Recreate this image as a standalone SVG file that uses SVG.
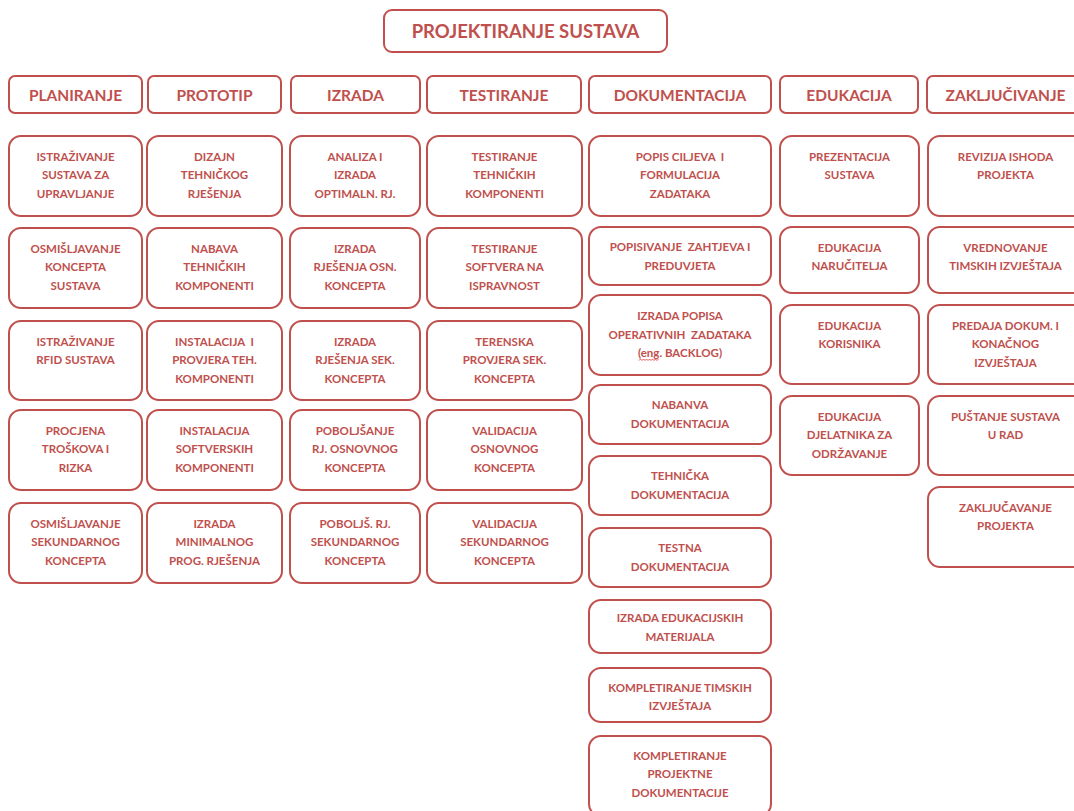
<svg xmlns="http://www.w3.org/2000/svg" width="1074" height="811" viewBox="0 0 1074 811">
<style>
.b{fill:#fff;stroke:#c0504d;stroke-width:2}
.t{font-family:Lato,"Liberation Sans",sans-serif;font-weight:700;font-size:11.5px;fill:#c0504d;text-anchor:middle}
.h{font-family:Lato,"Liberation Sans",sans-serif;font-weight:700;font-size:15.5px;fill:#c0504d;text-anchor:middle}
.ti{font-family:Lato,"Liberation Sans",sans-serif;font-weight:700;font-size:18.5px;fill:#c0504d;text-anchor:middle}
</style>
<rect width="1074" height="811" fill="#fff"/>
<g id="connectors"/>
<g id="root"><rect class="b" x="384" y="10" width="283" height="42" rx="8"/><text class="ti" x="525.5" y="37.5">PROJEKTIRANJE SUSTAVA</text></g>
<g id="h1"><rect class="b" x="9" y="76" width="133" height="37" rx="6"/><text class="h" x="75.5" y="100.5">PLANIRANJE</text></g>
<g id="h2"><rect class="b" x="148" y="76" width="133" height="37" rx="6"/><text class="h" x="214.5" y="100.5">PROTOTIP</text></g>
<g id="h3"><rect class="b" x="291" y="76" width="129" height="37" rx="6"/><text class="h" x="355.5" y="100.5">IZRADA</text></g>
<g id="h4"><rect class="b" x="427" y="76" width="154" height="37" rx="6"/><text class="h" x="504" y="100.5">TESTIRANJE</text></g>
<g id="h5"><rect class="b" x="589" y="76" width="182" height="37" rx="6"/><text class="h" x="680" y="100.5">DOKUMENTACIJA</text></g>
<g id="h6"><rect class="b" x="780" y="76" width="138" height="37" rx="6"/><text class="h" x="849" y="100.5">EDUKACIJA</text></g>
<g id="h7"><rect class="b" x="927" y="76" width="160" height="37" rx="6"/><text class="h" x="1005.5" y="100.5">ZAKLJUČIVANJE</text></g>

<g id="c1n1"><rect class="b" x="9" y="136" width="133" height="80" rx="12"/><text class="t" x="75.5"><tspan x="75.5" y="160.5">ISTRAŽIVANJE</tspan><tspan x="75.5" y="179">SUSTAVA ZA</tspan><tspan x="75.5" y="197.5">UPRAVLJANJE</tspan></text></g>
<g id="c1n2"><rect class="b" x="9" y="228" width="133" height="80" rx="12"/><text class="t"><tspan x="75.5" y="252.5">OSMIŠLJAVANJE</tspan><tspan x="75.5" y="271">KONCEPTA</tspan><tspan x="75.5" y="289.5">SUSTAVA</tspan></text></g>
<g id="c1n3"><rect class="b" x="9" y="321" width="133" height="79" rx="12"/><text class="t"><tspan x="75.5" y="345.5">ISTRAŽIVANJE</tspan><tspan x="75.5" y="364">RFID SUSTAVA</tspan></text></g>
<g id="c1n4"><rect class="b" x="9" y="410" width="133" height="80" rx="12"/><text class="t"><tspan x="75.5" y="434.5">PROCJENA</tspan><tspan x="75.5" y="453">TROŠKOVA I</tspan><tspan x="75.5" y="471.5">RIZKA</tspan></text></g>
<g id="c1n5"><rect class="b" x="9" y="503" width="133" height="80" rx="12"/><text class="t"><tspan x="75.5" y="527.5">OSMIŠLJAVANJE</tspan><tspan x="75.5" y="546">SEKUNDARNOG</tspan><tspan x="75.5" y="564.5">KONCEPTA</tspan></text></g>

<g id="c2n1"><rect class="b" x="147" y="136" width="135" height="80" rx="12"/><text class="t"><tspan x="214.5" y="160.5">DIZAJN</tspan><tspan x="214.5" y="179">TEHNIČKOG</tspan><tspan x="214.5" y="197.5">RJEŠENJA</tspan></text></g>
<g id="c2n2"><rect class="b" x="147" y="228" width="135" height="80" rx="12"/><text class="t"><tspan x="214.5" y="252.5">NABAVA</tspan><tspan x="214.5" y="271">TEHNIČKIH</tspan><tspan x="214.5" y="289.5">KOMPONENTI</tspan></text></g>
<g id="c2n3"><rect class="b" x="147" y="321" width="135" height="79" rx="12"/><text class="t" xml:space="preserve"><tspan x="214.5" y="345.5">INSTALACIJA  I</tspan><tspan x="214.5" y="364">PROVJERA TEH.</tspan><tspan x="214.5" y="382.5">KOMPONENTI</tspan></text></g>
<g id="c2n4"><rect class="b" x="147" y="410" width="135" height="80" rx="12"/><text class="t"><tspan x="214.5" y="434.5">INSTALACIJA</tspan><tspan x="214.5" y="453">SOFTVERSKIH</tspan><tspan x="214.5" y="471.5">KOMPONENTI</tspan></text></g>
<g id="c2n5"><rect class="b" x="147" y="503" width="135" height="80" rx="12"/><text class="t"><tspan x="214.5" y="527.5">IZRADA</tspan><tspan x="214.5" y="546">MINIMALNOG</tspan><tspan x="214.5" y="564.5">PROG. RJEŠENJA</tspan></text></g>

<g id="c3n1"><rect class="b" x="290" y="136" width="130" height="80" rx="12"/><text class="t"><tspan x="355" y="160.5">ANALIZA I</tspan><tspan x="355" y="179">IZRADA</tspan><tspan x="355" y="197.5">OPTIMALN. RJ.</tspan></text></g>
<g id="c3n2"><rect class="b" x="290" y="228" width="130" height="80" rx="12"/><text class="t"><tspan x="355" y="252.5">IZRADA</tspan><tspan x="355" y="271">RJEŠENJA OSN.</tspan><tspan x="355" y="289.5">KONCEPTA</tspan></text></g>
<g id="c3n3"><rect class="b" x="290" y="321" width="130" height="79" rx="12"/><text class="t"><tspan x="355" y="345.5">IZRADA</tspan><tspan x="355" y="364">RJEŠENJA SEK.</tspan><tspan x="355" y="382.5">KONCEPTA</tspan></text></g>
<g id="c3n4"><rect class="b" x="290" y="410" width="130" height="80" rx="12"/><text class="t"><tspan x="355" y="434.5">POBOLJŠANJE</tspan><tspan x="355" y="453">RJ. OSNOVNOG</tspan><tspan x="355" y="471.5">KONCEPTA</tspan></text></g>
<g id="c3n5"><rect class="b" x="290" y="503" width="130" height="80" rx="12"/><text class="t"><tspan x="355" y="527.5">POBOLJŠ. RJ.</tspan><tspan x="355" y="546">SEKUNDARNOG</tspan><tspan x="355" y="564.5">KONCEPTA</tspan></text></g>

<g id="c4n1"><rect class="b" x="427" y="136" width="155" height="80" rx="12"/><text class="t"><tspan x="504.5" y="160.5">TESTIRANJE</tspan><tspan x="504.5" y="179">TEHNIČKIH</tspan><tspan x="504.5" y="197.5">KOMPONENTI</tspan></text></g>
<g id="c4n2"><rect class="b" x="427" y="228" width="155" height="80" rx="12"/><text class="t"><tspan x="504.5" y="252.5">TESTIRANJE</tspan><tspan x="504.5" y="271">SOFTVERA NA</tspan><tspan x="504.5" y="289.5">ISPRAVNOST</tspan></text></g>
<g id="c4n3"><rect class="b" x="427" y="321" width="155" height="79" rx="12"/><text class="t"><tspan x="504.5" y="345.5">TERENSKA</tspan><tspan x="504.5" y="364">PROVJERA SEK.</tspan><tspan x="504.5" y="382.5">KONCEPTA</tspan></text></g>
<g id="c4n4"><rect class="b" x="427" y="410" width="155" height="80" rx="12"/><text class="t"><tspan x="504.5" y="434.5">VALIDACIJA</tspan><tspan x="504.5" y="453">OSNOVNOG</tspan><tspan x="504.5" y="471.5">KONCEPTA</tspan></text></g>
<g id="c4n5"><rect class="b" x="427" y="503" width="155" height="80" rx="12"/><text class="t"><tspan x="504.5" y="527.5">VALIDACIJA</tspan><tspan x="504.5" y="546">SEKUNDARNOG</tspan><tspan x="504.5" y="564.5">KONCEPTA</tspan></text></g>

<g id="c5n1"><rect class="b" x="589" y="136" width="182" height="80" rx="12"/><text class="t" xml:space="preserve"><tspan x="680" y="160.5">POPIS CILJEVA  I</tspan><tspan x="680" y="179">FORMULACIJA</tspan><tspan x="680" y="197.5">ZADATAKA</tspan></text></g>
<g id="c5n2"><rect class="b" x="589" y="227" width="182" height="58" rx="12"/><text class="t" xml:space="preserve"><tspan x="680" y="251">POPISIVANJE  ZAHTJEVA I</tspan><tspan x="680" y="269.5">PREDUVJETA</tspan></text></g>
<g id="c5n3"><rect class="b" x="589" y="295" width="182" height="80" rx="12"/><text class="t" xml:space="preserve"><tspan x="680" y="320">IZRADA POPISA</tspan><tspan x="680" y="338.5">OPERATIVNIH  ZADATAKA</tspan><tspan x="680" y="357">(eng. BACKLOG)</tspan></text><path d="M639 360.5 l1.5 -1.5 l1.5 1.5 l1.5 -1.5 l1.5 1.5 l1.5 -1.5 l1.5 1.5 l1.5 -1.5 l1.5 1.5 l1.5 -1.5 l1.5 1.5 l1.5 -1.5 l1.5 1.5 l1.5 -1.5" fill="none" stroke="#e03030" stroke-width="0.8"/></g>
<g id="c5n4"><rect class="b" x="589" y="385" width="182" height="59" rx="12"/><text class="t"><tspan x="680" y="409">NABANVA</tspan><tspan x="680" y="427.5">DOKUMENTACIJA</tspan></text></g>
<g id="c5n5"><rect class="b" x="589" y="456" width="182" height="59" rx="12"/><text class="t"><tspan x="680" y="480">TEHNIČKA</tspan><tspan x="680" y="498.5">DOKUMENTACIJA</tspan></text></g>
<g id="c5n6"><rect class="b" x="589" y="528" width="182" height="59" rx="12"/><text class="t"><tspan x="680" y="552">TESTNA</tspan><tspan x="680" y="570.5">DOKUMENTACIJA</tspan></text></g>
<g id="c5n7"><rect class="b" x="589" y="600" width="182" height="53" rx="12"/><text class="t"><tspan x="680" y="622">IZRADA EDUKACIJSKIH</tspan><tspan x="680" y="640.5">MATERIJALA</tspan></text></g>
<g id="c5n8"><rect class="b" x="589" y="668" width="182" height="54" rx="12"/><text class="t"><tspan x="680" y="692">KOMPLETIRANJE TIMSKIH</tspan><tspan x="680" y="710">IZVJEŠTAJA</tspan></text></g>
<g id="c5n9"><rect class="b" x="589" y="736" width="182" height="80" rx="12"/><text class="t"><tspan x="680" y="759.5">KOMPLETIRANJE</tspan><tspan x="680" y="778">PROJEKTNE</tspan><tspan x="680" y="796.5">DOKUMENTACIJE</tspan></text></g>

<g id="c6n1"><rect class="b" x="780" y="136" width="139" height="80" rx="12"/><text class="t"><tspan x="849.5" y="160.5">PREZENTACIJA</tspan><tspan x="849.5" y="179">SUSTAVA</tspan></text></g>
<g id="c6n2"><rect class="b" x="780" y="227" width="139" height="66" rx="12"/><text class="t"><tspan x="849.5" y="251.5">EDUKACIJA</tspan><tspan x="849.5" y="270">NARUČITELJA</tspan></text></g>
<g id="c6n3"><rect class="b" x="780" y="305" width="139" height="79" rx="12"/><text class="t"><tspan x="849.5" y="329.5">EDUKACIJA</tspan><tspan x="849.5" y="348">KORISNIKA</tspan></text></g>
<g id="c6n4"><rect class="b" x="780" y="396" width="139" height="79" rx="12"/><text class="t"><tspan x="849.5" y="420.5">EDUKACIJA</tspan><tspan x="849.5" y="439">DJELATNIKA ZA</tspan><tspan x="849.5" y="457.5">ODRŽAVANJE</tspan></text></g>

<g id="c7n1"><rect class="b" x="928" y="136" width="160" height="80" rx="12"/><text class="t"><tspan x="1005.5" y="160.5">REVIZIJA ISHODA</tspan><tspan x="1005.5" y="179">PROJEKTA</tspan></text></g>
<g id="c7n2"><rect class="b" x="928" y="227" width="160" height="66" rx="12"/><text class="t"><tspan x="1005.5" y="251.5">VREDNOVANJE</tspan><tspan x="1005.5" y="270">TIMSKIH IZVJEŠTAJA</tspan></text></g>
<g id="c7n3"><rect class="b" x="928" y="305" width="160" height="79" rx="12"/><text class="t"><tspan x="1005.5" y="329.5">PREDAJA DOKUM. I</tspan><tspan x="1005.5" y="348">KONAČNOG</tspan><tspan x="1005.5" y="366.5">IZVJEŠTAJA</tspan></text></g>
<g id="c7n4"><rect class="b" x="928" y="396" width="160" height="79" rx="12"/><text class="t"><tspan x="1005.5" y="420.5">PUŠTANJE SUSTAVA</tspan><tspan x="1005.5" y="439">U RAD</tspan></text></g>
<g id="c7n5"><rect class="b" x="928" y="487" width="160" height="80" rx="12"/><text class="t"><tspan x="1005.5" y="511.5">ZAKLJUČAVANJE</tspan><tspan x="1005.5" y="530">PROJEKTA</tspan></text></g>
</svg>
